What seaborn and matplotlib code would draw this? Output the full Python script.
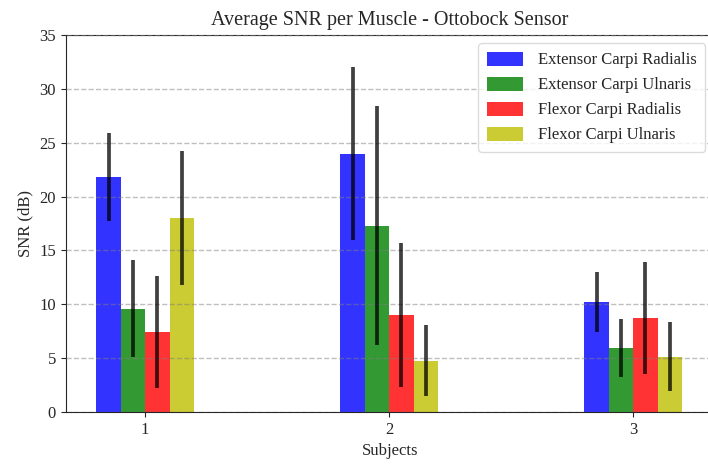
import matplotlib
matplotlib.use('Agg')
import matplotlib.pyplot as plt
import numpy as np
import pandas as pd
import seaborn as sns

# ── Datos ─────────────────────────────────────────────────────────────────────
subjects = ['1', '2', '3']
muscles = [
    'Extensor Carpi Radialis',
    'Extensor Carpi Ulnaris',
    'Flexor Carpi Radialis',
    'Flexor Carpi Ulnaris',
]
snr_ecr = [21.8, 24.0, 10.2]
snr_ecu = [9.6, 17.3, 5.9]
snr_fcr = [7.4, 9.0, 8.75]
snr_fcu = [18.0, 4.75, 5.1]
std_ecr = [4.1, 8.0, 2.8]
std_ecu = [4.5, 11.1, 2.7]
std_fcr = [5.2, 6.7, 5.2]
std_fcu = [6.2, 3.3, 3.2]

colors = ['b', 'g', 'r', 'y']

means = [snr_ecr, snr_ecu, snr_fcr, snr_fcu]
stds = [std_ecr, std_ecu, std_fcr, std_fcu]

df = pd.DataFrame({
    'Subject': [s for _ in muscles for s in subjects],
    'Muscle': [m for m in muscles for _ in subjects],
    'SNR': [v for serie in means for v in serie],
})

sns.set_style('ticks')
plt.rcParams['font.family'] = ['Liberation Serif', 'DejaVu Serif']

fig = plt.figure(figsize=(7.08, 4.68), dpi=100)
ax = fig.add_axes([0.093, 0.12, 0.915, 0.805])

sns.barplot(
    data=df, x='Subject', y='SNR', hue='Muscle',
    order=subjects, hue_order=muscles,
    palette=colors, saturation=1, width=0.4,
    errorbar=None, alpha=0.8, linewidth=0, ax=ax,
)

# Barras de error (desviación) encima de cada barra
for cont, err in zip(ax.containers, stds):
    xs = [p.get_x() + p.get_width() / 2 for p in cont]
    ys = [p.get_height() for p in cont]
    ax.errorbar(xs, ys, yerr=err, fmt='none', ecolor='black',
                elinewidth=2.7, alpha=0.75, capsize=0, zorder=4)

ax.set_xlim(-0.325, 2.33)
ax.set_ylim(0, 35)
ax.set_yticks(np.arange(0, 36, 5))
ax.set_axisbelow(False)
ax.yaxis.grid(True, linestyle='--', color='gray', alpha=0.5, linewidth=1)

ax.set_title('Average SNR per Muscle - Ottobock Sensor', fontsize=14.5, pad=7)
ax.set_xlabel('Subjects', fontsize=12)
ax.set_ylabel('SNR (dB)', fontsize=12)
ax.tick_params(labelsize=12)

ax.legend(loc='upper right', fontsize=12, frameon=True, framealpha=0.8,
          edgecolor='lightgray', handlelength=2.2, handleheight=0.9,
          labelspacing=0.5, handletextpad=0.9, borderpad=0.5)

fig.savefig('out.png', dpi=100)
